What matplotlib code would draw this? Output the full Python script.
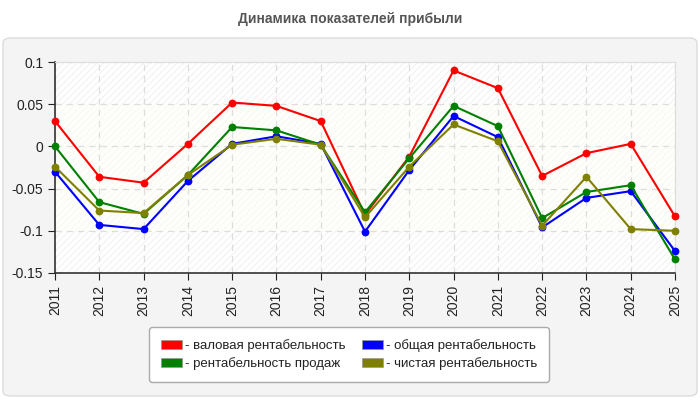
import matplotlib

matplotlib.use("Agg")
import matplotlib.pyplot as plt
from matplotlib.patches import FancyBboxPatch, Rectangle
from matplotlib.ticker import FuncFormatter

years = [str(y) for y in range(2011, 2026)]
gross = [0.030, -0.036, -0.043, 0.003, 0.052, 0.048, 0.030, -0.081, -0.012,
         0.090, 0.069, -0.035, -0.008, 0.003, -0.083]
sales = [0.000, -0.066, -0.080, -0.034, 0.023, 0.019, 0.002, -0.078, -0.014,
         0.048, 0.024, -0.085, -0.054, -0.046, -0.134]
total = [-0.030, -0.093, -0.098, -0.041, 0.003, 0.012, 0.003, -0.101, -0.028,
         0.036, 0.011, -0.096, -0.061, -0.053, -0.124]
net = [-0.024, -0.076, -0.079, -0.034, 0.002, 0.009, 0.002, -0.084, -0.024,
       0.026, 0.006, -0.094, -0.036, -0.098, -0.100]

series = [
    ("- валовая рентабельность", gross, "#ff0000"),
    ("- общая рентабельность", total, "#0000ff"),
    ("- рентабельность продаж", sales, "#008000"),
    ("- чистая рентабельность", net, "#808000"),
]

plt.rcParams["font.family"] = ["Liberation Sans", "DejaVu Sans"]
plt.rcParams["hatch.linewidth"] = 0.6

fig = plt.figure(figsize=(7, 4), dpi=100)
fig.patch.set_facecolor("white")

# rounded grey panel behind the chart
panel = FancyBboxPatch((3 / 700, 4 / 400), 694 / 700, 358 / 400,
                       boxstyle="round,pad=0,rounding_size=0.012",
                       transform=fig.transFigure, facecolor="#f4f4f4",
                       edgecolor="#dcdcdc", linewidth=1, zorder=-5)
fig.patches.append(panel)

fig.text(0.5, 0.952, "Динамика показателей прибыли", ha="center", va="center",
         fontsize=10, fontweight="bold", color="#555555")

ax = fig.add_axes([55 / 700, 1 - 273 / 400, 620 / 700, 211 / 400])
ax.set_zorder(1)
ax.set_facecolor("white")
x = list(range(len(years)))

# hatched background with a tinted band
ax.add_patch(Rectangle((0, -0.15), 14, 0.25, facecolor="white",
                       edgecolor="#eeeeee", hatch="/////", linewidth=0, zorder=0))
ax.add_patch(Rectangle((0, -0.1), 14, 0.15, facecolor="#fefefa",
                       edgecolor="#f7f7f2", hatch="/////", linewidth=0, zorder=0.5))

for label, vals, col in series:
    ax.plot(x, vals, color=col, linewidth=1.5, marker="o", markersize=4.6,
            label=label, zorder=3, clip_on=False)

ax.set_xlim(0, 14)
ax.set_ylim(-0.15, 0.1)
ax.set_xticks(x)
ax.set_xticklabels(years, rotation=90, fontsize=10, color="#222222")
ax.set_yticks([-0.15, -0.1, -0.05, 0, 0.05, 0.1])
ax.yaxis.set_major_formatter(FuncFormatter(lambda v, p: f"{v:g}" if abs(v) > 1e-9 else "0"))
ax.tick_params(axis="y", labelsize=10, colors="#222222", length=5)
ax.tick_params(axis="x", length=5, colors="#222222")
ax.grid(True, color="#dddddd", linestyle=(0, (5, 4)), linewidth=0.9, zorder=1)
ax.set_axisbelow(True)
for side in ("top", "right"):
    ax.spines[side].set_color("#dddddd")
for side in ("left", "bottom"):
    ax.spines[side].set_color("#333333")
    ax.spines[side].set_linewidth(1.2)

order = [0, 2, 1, 3]
leg_handles = [FancyBboxPatch((0, 0), 1, 1, boxstyle="round,pad=0,rounding_size=2",
                              facecolor=series[i][2], edgecolor="#999999",
                              linewidth=0.5) for i in order]
leg = fig.legend(leg_handles, [series[i][0] for i in order], ncol=2,
                 loc="center", bbox_to_anchor=(349 / 700, 1 - 354.5 / 400),
                 fontsize=9.5, frameon=True, fancybox=True,
                 handlelength=1.6, handleheight=0.7, handletextpad=0.2,
                 columnspacing=1.3, labelspacing=0.4, borderpad=0.9)
leg.get_frame().set_facecolor("white")
leg.get_frame().set_edgecolor("#aaaaaa")
leg.get_frame().set_alpha(1)
for t in leg.get_texts():
    t.set_color("#222222")

fig.savefig("out.png", dpi=100)
